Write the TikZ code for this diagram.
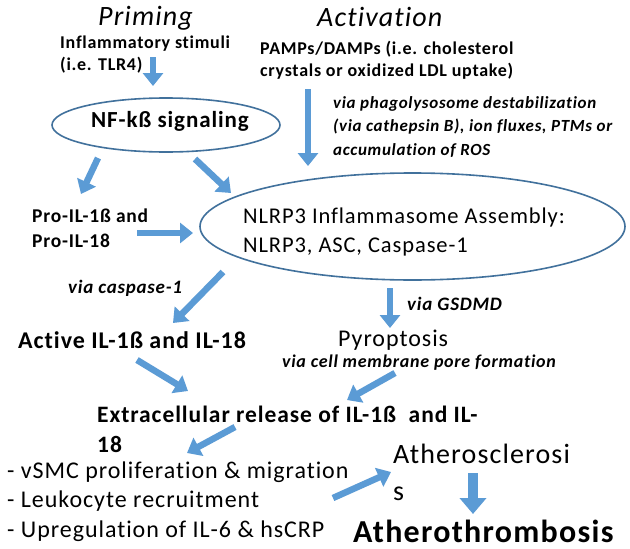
\documentclass[tikz,border=0pt]{standalone}
\usepackage{fontspec}
\setmainfont{Carlito}[LetterSpace=4,Ligatures=NoCommon]
\usetikzlibrary{arrows.meta,shapes.geometric}
\definecolor{arrowblue}{HTML}{5B9BD5}
\definecolor{ringblue}{HTML}{41719C}
\begin{document}
\begin{tikzpicture}[x=1pt,y=-1pt,
  arr/.style={draw=arrowblue, line width=6.5pt, -{Triangle[width=20pt,length=13pt]}},
  bigarr/.style={draw=arrowblue, line width=10pt, -{Triangle[width=26pt,length=16pt]}},
  ring/.style={draw=ringblue, line width=1.6pt, ellipse, inner sep=0pt},
  txt/.style={inner sep=0pt, anchor=base west, align=left},
  title/.style={txt, font=\fontsize{28}{32}\selectfont\itshape},
  small/.style={txt, font=\fontsize{18}{22}\selectfont\bfseries},
  via/.style={txt, font=\fontsize{18}{23.5}\selectfont\bfseries\itshape},
  mid/.style={txt, font=\fontsize{24}{29}\selectfont},
  midb/.style={txt, font=\fontsize{24}{30}\selectfont\bfseries},
]
\fill[white] (0,0) rectangle (630,549);
\useasboundingbox (0,0) rectangle (630,549);

% titles
\node[title] (priming) at (98,25) {Priming};
\node[title] (activation) at (317,26) {Activation};

% inputs (anchor = baseline of last line)
\node[small] (stim) at (60,70) {Inflammatory stimuli\\(i.e. TLR4)};
\node[small] (pamps) at (260,76) {PAMPs/DAMPs (i.e. cholesterol\\crystals or oxidized LDL uptake)};
\node[via, font=\fontsize{17}{23.5}\selectfont\bfseries\itshape] (phago) at (333,155) {via phagolysosome destabilization\\(via cathepsin B), ion fluxes, PTMs or\\accumulation of ROS};

% NF-kB
\node[ring, minimum width=228pt, minimum height=54pt] (nf) at (166,125) {};
\node[inner sep=0pt, font=\fontsize{23}{28}\selectfont\bfseries] (nftext) at (170,121) {NF-kß signaling};

% NLRP3
\node[ring, minimum width=425pt, minimum height=107pt] (nlrp) at (412.5,226.5) {};
\node[mid, font=\fontsize{22.5}{29}\selectfont] (nlrptext) at (243,252) {NLRP3 Inflammasome Assembly:\\NLRP3, ASC, Caspase-1};

\node[small, font=\fontsize{19.5}{25}\selectfont\bfseries] (pro) at (32,247) {Pro-IL-1ß and\\Pro-IL-18};
\node[via, font=\fontsize{19}{23}\selectfont\bfseries\itshape] (viacasp) at (68,293) {via caspase-1};
\node[midb] (active) at (18,348) {Active IL-1ß and IL-18};
\node[via, font=\fontsize{19}{23}\selectfont\bfseries\itshape] (viagsdmd) at (407,310) {via GSDMD};
\node[mid] (pyro) at (338,346) {Pyroptosis};
\node[via] (viacell) at (282,367) {via cell membrane pore formation};
\node[midb, font=\fontsize{23.5}{30}\selectfont\bfseries] (extra) at (97,452) {Extracellular release of IL-1ß~ and IL-\\18};
\node[mid, font=\fontsize{24}{29.5}\selectfont] (effects) at (7,537) {- vSMC proliferation \& migration\\- Leukocyte recruitment\\- Upregulation of IL-6 \& hsCRP};
\node[txt, font=\fontsize{28}{37}\selectfont] (athero) at (393,500) {Atherosclerosi\\s};
\node[txt, font=\fontsize{32}{36}\selectfont\bfseries] (thrombo) at (353,542) {Atherothrombosis};

% arrow endpoints
\coordinate (a1s) at (153,57);  \coordinate (a1e) at (153,86);
\coordinate (a2s) at (308,89);  \coordinate (a2e) at (308,166);
\coordinate (a3s) at (98,158);  \coordinate (a3e) at (81,194);
\coordinate (a4s) at (195,159); \coordinate (a4e) at (231,193);
\coordinate (a5s) at (137,233); \coordinate (a5e) at (193,233);
\coordinate (a6s) at (223,272); \coordinate (a6e) at (173,323);
\coordinate (a7s) at (390,288); \coordinate (a7e) at (390,328);
\coordinate (a8s) at (137,360); \coordinate (a8e) at (188,391);
\coordinate (a9s) at (395,373); \coordinate (a9e) at (347,400);
\coordinate (a10s) at (235,427); \coordinate (a10e) at (187,453);
\coordinate (a11s) at (333,498); \coordinate (a11e) at (391,472);
\coordinate (a12s) at (473,473); \coordinate (a12e) at (473,514);

\draw[arr] (a1s) -- (a1e);
\draw[arr] (a2s) -- (a2e);
\draw[arr] (a3s) -- (a3e);
\draw[arr] (a4s) -- (a4e);
\draw[arr] (a5s) -- (a5e);
\draw[arr] (a6s) -- (a6e);
\draw[arr] (a7s) -- (a7e);
\draw[arr] (a8s) -- (a8e);
\draw[arr] (a9s) -- (a9e);
\draw[arr] (a10s) -- (a10e);
\draw[arr] (a11s) -- (a11e);
\draw[bigarr] (a12s) -- (a12e);
\end{tikzpicture}
\end{document}
